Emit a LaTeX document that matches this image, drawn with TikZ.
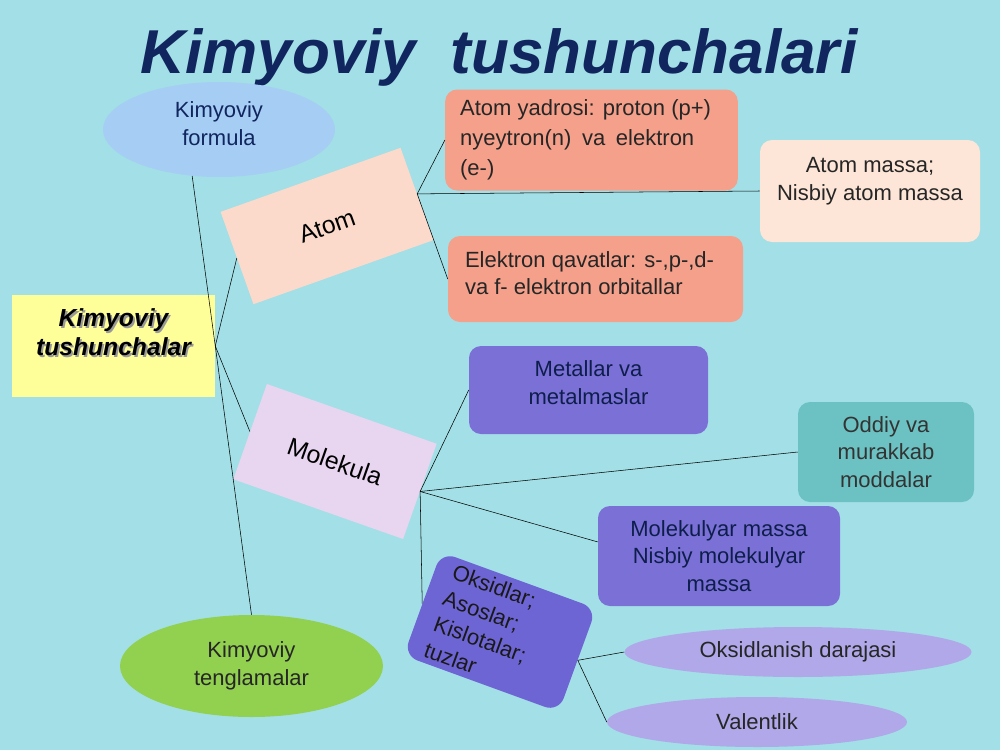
\documentclass[tikz,border=0pt]{standalone}
\usepackage{fontspec}
\setmainfont{Liberation Sans}
\usepackage{tikz}
\usepackage{color}
\usetikzlibrary{calc,shapes}

\definecolor{sky}{HTML}{A3DFE6}
\definecolor{navy}{HTML}{11255E}
\definecolor{formulablue}{HTML}{A6CDF4}
\definecolor{lemon}{HTML}{FFFF99}
\definecolor{peach}{HTML}{FBDACB}
\definecolor{lilac}{HTML}{E8D5EF}
\definecolor{salmon}{HTML}{F4A08A}
\definecolor{cream}{HTML}{FDE6D8}
\definecolor{violet}{HTML}{7A70D6}
\definecolor{deepviolet}{HTML}{6E65D4}
\definecolor{teal}{HTML}{6CC2C3}
\definecolor{pale}{HTML}{B0A8E8}
\definecolor{leaf}{HTML}{92D050}

\newcommand{\shd}[1]{\rlap{\kern1.4pt\raisebox{-1.4pt}{\color{black!40}#1}}#1}

\begin{document}
\begin{tikzpicture}[x=0.75pt, y=-0.75pt, thin,
    txt/.style={font=\fontsize{16.5}{20.6}\selectfont, align=center, inner sep=0pt},
    box/.style={txt, rectangle, rounded corners=9pt},
    oval/.style={txt, ellipse},
    tilt/.style={txt, rectangle, font=\fontsize{18.5}{22}\selectfont}]
    \fill[sky] (0,0) rectangle (1000,750);
    \useasboundingbox (0,0) rectangle (1000,750);

    \node[navy, inner sep=0pt, anchor=base, font=\fontsize{46.5}{54}\selectfont\bfseries\itshape] (title) at (499,73) {Kimyoviy\ \ tushunchalari};

    \node[oval, fill=formulablue, text=navy, minimum width=174pt, minimum height=71.25pt] (f) at (219,129.5) {Kimyoviy\\formula\\[-11.6pt]\mbox{}};
    \node[txt, fill=lemon, minimum width=152.25pt, minimum height=76.5pt, font=\fontsize{18.5}{21.75}\selectfont\bfseries\itshape] (t) at (113.5,346) {\shd{Kimyoviy}\\\shd{tushunchalar}\\[-7.5pt]\strut};
    \node[tilt, fill=peach, rotate=19.6, minimum width=143.25pt, minimum height=73.5pt] (a) at (327,226) {Atom};
    \node[tilt, fill=lilac, rotate=-19.4, minimum width=135pt, minimum height=75.75pt] (m) at (335,461.5) {Molekula};
    \node[oval, fill=leaf, text=black!85, minimum width=197.25pt, minimum height=76.5pt] (g) at (251.5,666) {Kimyoviy\\tenglamalar};

    \node[box, fill=salmon, text=black!85, align=flush left, text width=197pt, inner xsep=11.25pt, minimum height=75.75pt, font=\fontsize{16.5}{22.5}\selectfont] (y) at (591.5,140) {Atom yadrosi: proton (p+)\\nyeytron(n)\hspace{8pt}va\hspace{8pt}elektron\\(e-)};
    \node[box, fill=cream, text=black!85, minimum width=165pt, minimum height=76.5pt] (am) at (870,191) {Atom massa;\\Nisbiy atom massa\\[-9pt]\strut};
    \node[box, fill=salmon, text=black!85, align=flush left, text width=195.75pt, inner xsep=12.75pt, minimum height=64.5pt] (e) at (595.5,279) {Elektron qavatlar: s-,p-,d-\\va f- elektron orbitallar\\[-11.6pt]\mbox{}};

    \node[box, fill=violet, text=navy!80!black, minimum width=179.25pt, minimum height=66pt] (mt) at (588.5,390) {Metallar va\\metalmaslar\\[-9.35pt]\mbox{}};
    \node[box, fill=teal, text=black!80, minimum width=132pt, minimum height=75pt] (od) at (886,452) {Oddiy va\\murakkab\\moddalar};
    \node[box, fill=violet, text=navy!80!black, minimum width=181.5pt, minimum height=75pt] (mm) at (719,556) {Molekulyar massa\\Nisbiy molekulyar\\massa};
    \node[box, fill=deepviolet, text=black!90, rotate=-20, align=flush left, text width=96.75pt, minimum height=82.5pt, inner xsep=13.5pt, rounded corners=11pt] (ok) at (500,632) {Oksidlar;\\Asoslar;\\Kislotalar;\\tuzlar};
    \node[oval, fill=pale, text=black!85, minimum width=260.25pt, minimum height=37.5pt] (ox) at (798,652) {Oksidlanish darajasi};
    \node[oval, fill=pale, text=black!85, minimum width=225pt, minimum height=37.5pt] (v) at (757,722) {Valentlik};

    \coordinate (mmj) at ($(mm.west)!0.28!(mm.north west)$);

    \path (t.east) edge (f.-120) edge (a.west) edge (m.west) edge (g.north);
    \path (a.east) edge (y.west) edge (am.west) edge (e.west);
    \path (m.east) edge (mt.west) edge (od.west) edge (mmj) edge (ok.west);
    \path (ok.east) edge (ox.west) edge (v.west);
\end{tikzpicture}
\end{document}
